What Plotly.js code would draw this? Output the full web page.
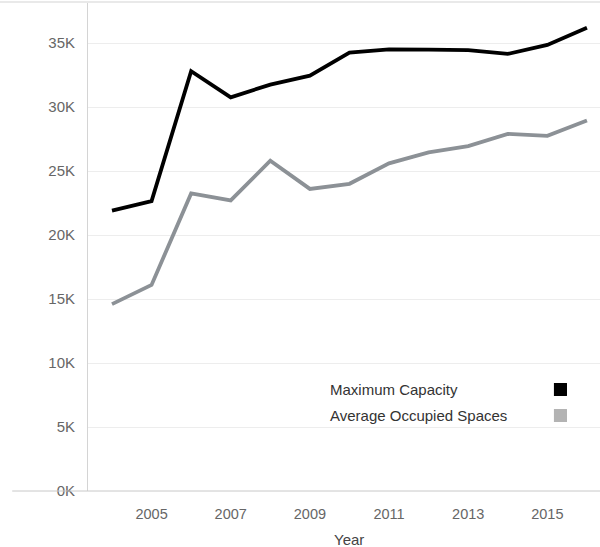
<!DOCTYPE html>
<html>
<head>
<meta charset="utf-8">
<script src="https://cdn.plot.ly/plotly-3.0.1.min.js"></script>
<style>html,body{margin:0;padding:0;background:#fff;}#chart{width:600px;height:547px;}</style>
</head>
<body>
<div id="chart"></div>
<script>
const years = [2004,2005,2006,2007,2008,2009,2010,2011,2012,2013,2014,2015,2016];
const maxCapacity = [21900,22650,32800,30750,31750,32450,34250,34500,34480,34450,34150,34850,36200];
const avgOccupied = [14600,16100,23250,22700,25800,23600,24000,25600,26450,26950,27900,27750,28950];
const seriesNames = ['Maximum Capacity','Average Occupied Spaces'];
const yTickVals = [0,5000,10000,15000,20000,25000,30000,35000];
const yTickText = ['0K','5K','10K','15K','20K','25K','30K','35K'];
const xTickVals = [2005,2007,2009,2011,2013,2015];
const xTickText = ['2005','2007','2009','2011','2013','2015'];

const lineColors = ['#000000','#8c9196'];
const legendColors = ['#000000','#b3b3b3'];

const traces = [
  {x: years, y: maxCapacity, name: seriesNames[0], type: 'scatter', mode: 'lines',
   line: {color: lineColors[0], width: 3.8}},
  {x: years, y: avgOccupied, name: seriesNames[1], type: 'scatter', mode: 'lines',
   line: {color: lineColors[1], width: 3.8}}
];

const font = {family: '"Liberation Sans", Arial, sans-serif', size: 15, color: '#666'};

const layout = {
  width: 600, height: 547,
  margin: {l: 88, r: 0, t: 3, b: 56, pad: 0},
  paper_bgcolor: '#fff', plot_bgcolor: '#fff',
  showlegend: false,
  font: font,
  xaxis: {
    range: [2003.394, 2016.33], tickvals: xTickVals, ticktext: xTickText,
    showgrid: false, zeroline: false, showline: false, ticks: '',
    ticklabelstandoff: 12, tickfont: {size: 14.5, color: '#666'}, fixedrange: true
  },
  yaxis: {
    range: [0, 38125], tickvals: yTickVals, ticktext: yTickText,
    showgrid: true, gridcolor: '#ededed', gridwidth: 1,
    zeroline: false, showline: true, linecolor: '#d4d4d4', linewidth: 1,
    ticks: '', ticklabelstandoff: 9, tickfont: {size: 15, color: '#666'}, fixedrange: true
  },
  shapes: [
    {type: 'line', xref: 'paper', yref: 'paper', x0: -0.148, x1: 1, y0: 0, y1: 0,
     line: {color: '#c8c8c8', width: 1}},
    {type: 'line', xref: 'paper', yref: 'paper', x0: -0.172, x1: 1, y0: 1.002, y1: 1.002,
     line: {color: '#e2e2e2', width: 1.5}},
    {type: 'rect', xref: 'paper', yref: 'paper', x0: 0.910, x1: 0.9355, y0: 0.1947, y1: 0.2213,
     fillcolor: legendColors[0], line: {width: 0}},
    {type: 'rect', xref: 'paper', yref: 'paper', x0: 0.910, x1: 0.9355, y0: 0.1414, y1: 0.1680,
     fillcolor: legendColors[1], line: {width: 0}}
  ],
  annotations: [
    {text: seriesNames[0], xref: 'paper', yref: 'paper', x: 0.4688, y: 0.207,
     xanchor: 'left', yanchor: 'middle', showarrow: false, font: {size: 15, color: '#333'}},
    {text: seriesNames[1], xref: 'paper', yref: 'paper', x: 0.4688, y: 0.1537,
     xanchor: 'left', yanchor: 'middle', showarrow: false, font: {size: 15, color: '#333'}},
    {text: 'Year', xref: 'paper', yref: 'paper', x: 0.5098, y: -0.1004,
     xanchor: 'center', yanchor: 'middle', showarrow: false, font: {size: 15, color: '#444'}}
  ]
};

Plotly.newPlot('chart', traces, layout, {displayModeBar: false, staticPlot: true});
</script>
</body>
</html>
